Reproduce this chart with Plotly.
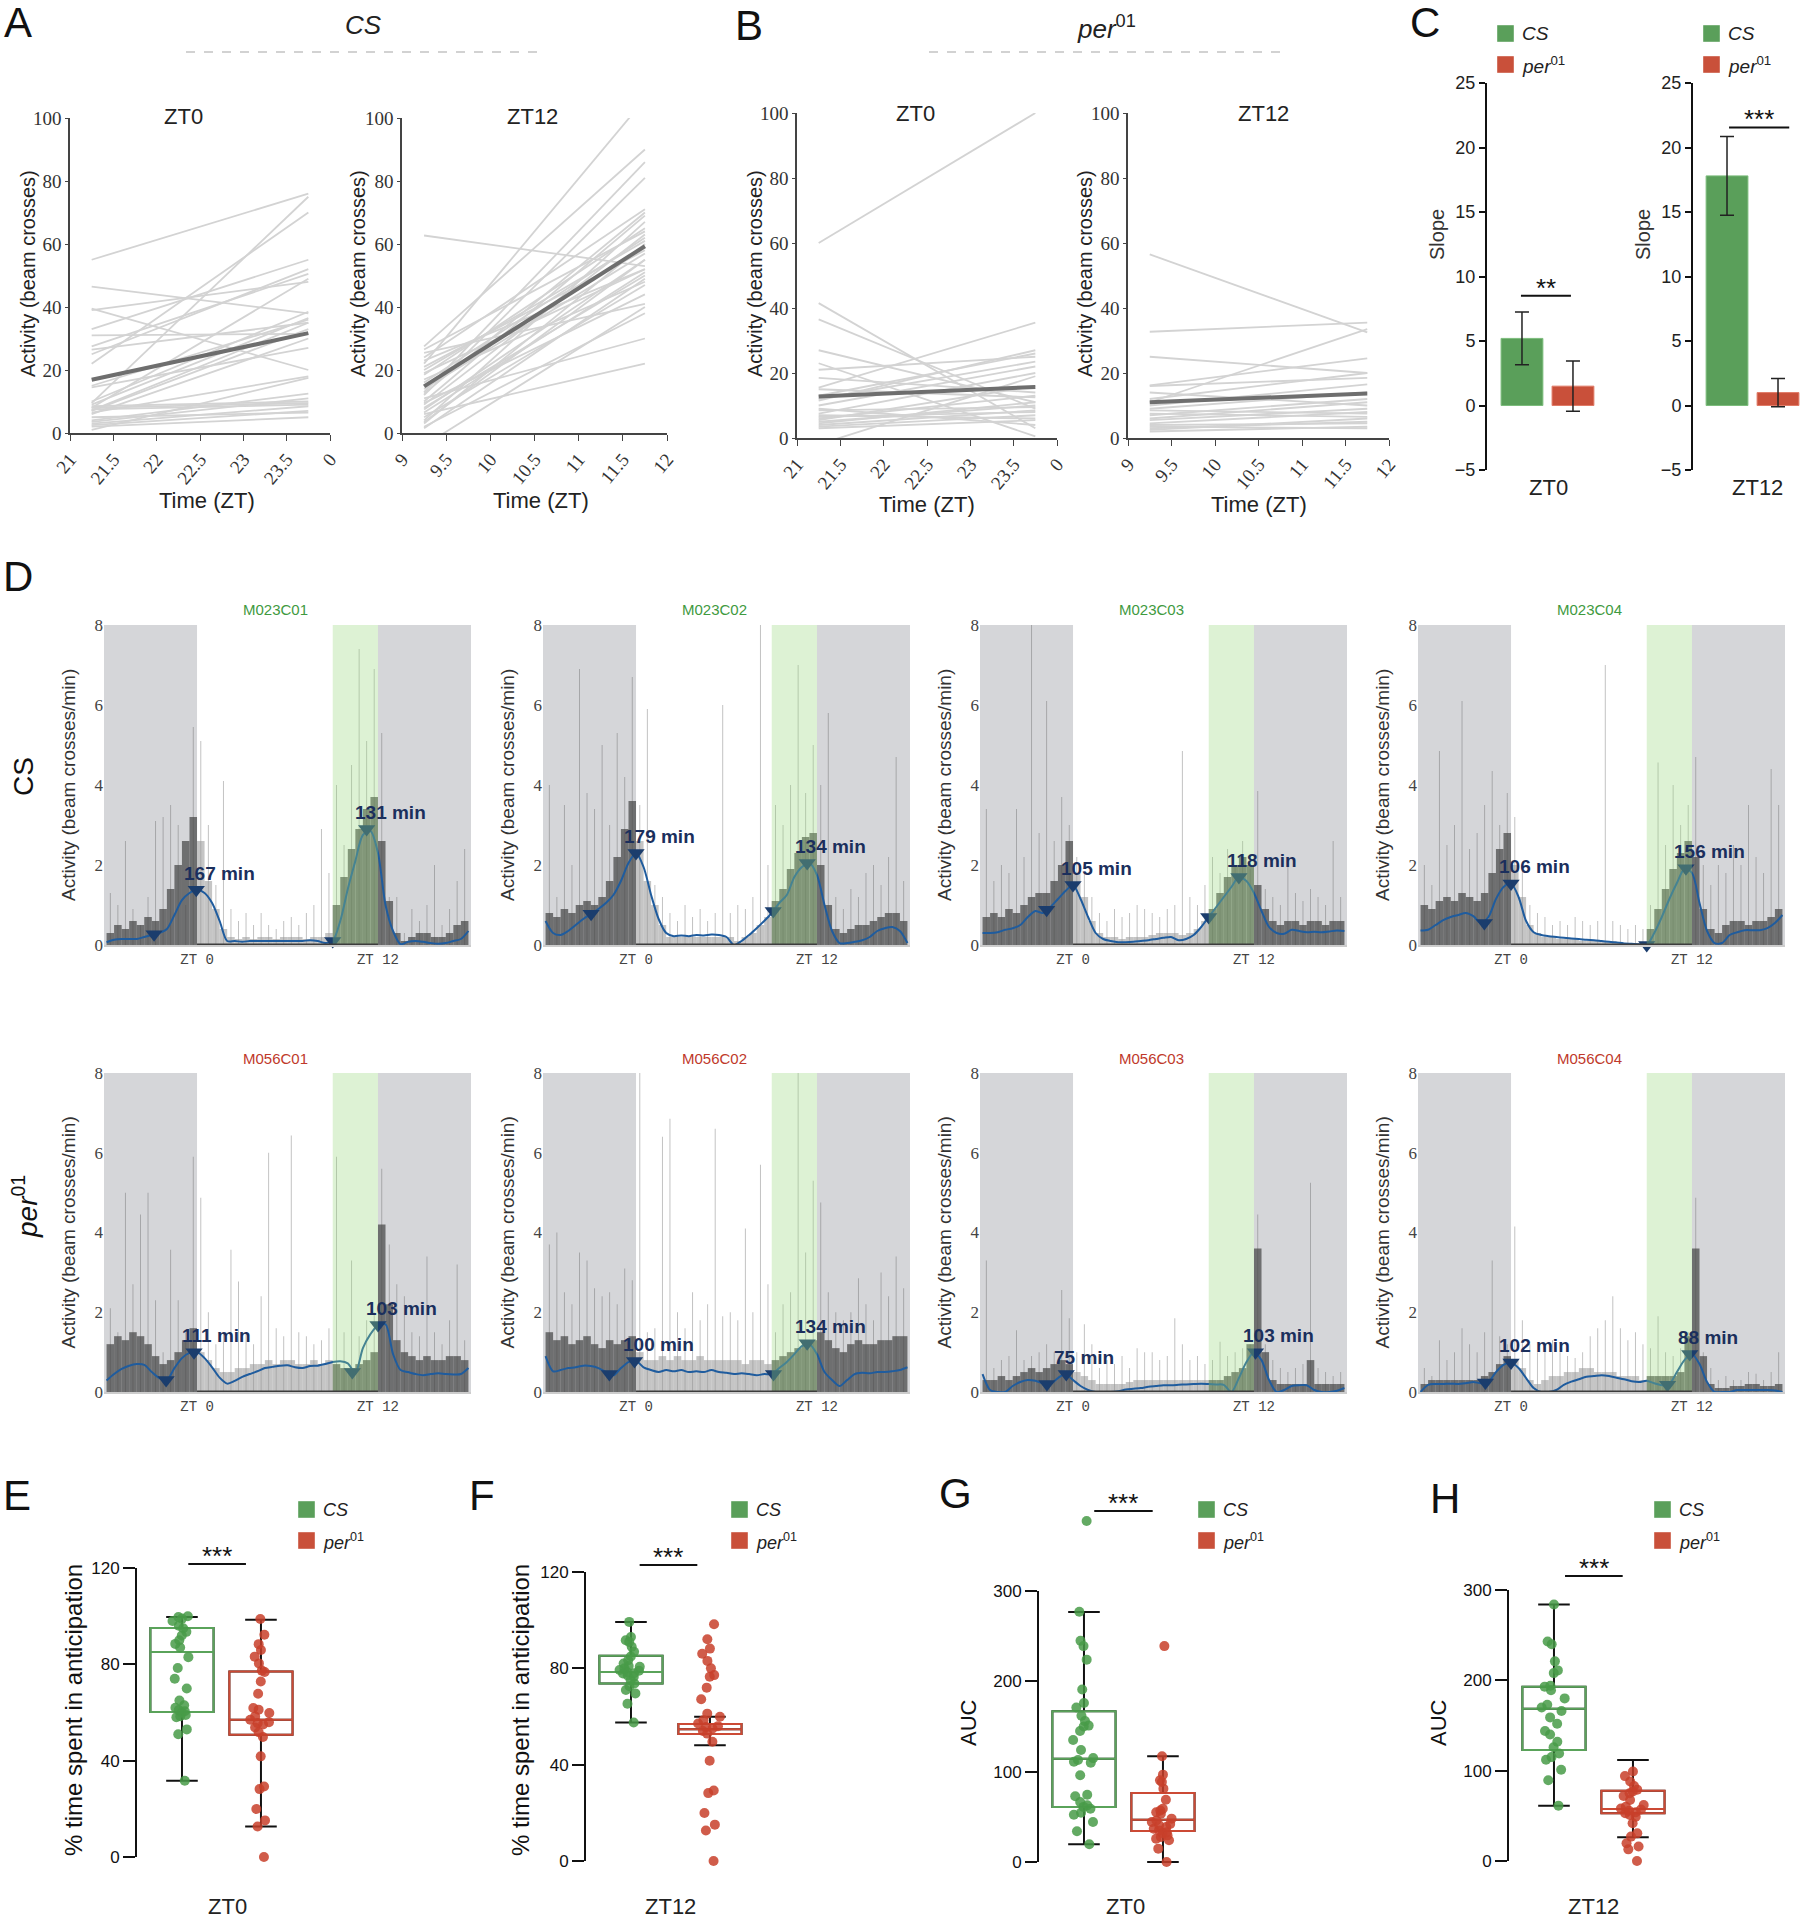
import plotly.graph_objects as go

W, H = 1804, 1920
SANS = "Liberation Sans, Arial, sans-serif"
NARROW = "Liberation Sans Narrow, Liberation Sans, Arial, sans-serif"
SERIF = "Liberation Serif, DejaVu Serif, serif"
MONO = "Liberation Mono, DejaVu Sans Mono, monospace"

GREEN = "#5a9f5a"
RED = "#c9503a"
PT_GREEN = "rgba(72,155,72,0.85)"
PT_RED = "rgba(200,64,42,0.85)"
NAVY = "#1b3d6d"

# ---------------- A / B : activity at start and end of the anticipation window ----------------
WIN_ZT0 = [21.25, 23.75]
WIN_ZT12 = [9.25, 11.75]
TICKS_ZT0 = [21, 21.5, 22, 22.5, 23, 23.5, 24]
TICKTEXT_ZT0 = ["21", "21.5", "22", "22.5", "23", "23.5", "0"]
TICKS_ZT12 = [9, 9.5, 10, 10.5, 11, 11.5, 12]
TICKTEXT_ZT12 = ["9", "9.5", "10", "10.5", "11", "11.5", "12"]

CS_ZT0_START = [55, 46.5, 39.5, 39, 33, 31, 27.5, 26.5, 25, 22, 15, 14.5, 9, 8.5, 8,
                7.5, 7, 6.5, 4, 3, 2, 1, 9.5, 8, 6, 3.5, 2.5, 10, 5, 7.2]
CS_ZT0_END = [76, 38, 20, 48, 55, 31.5, 50.5, 35, 52, 70, 36, 27, 36.5, 10, 9.5,
              9, 33, 18, 12.5, 8.5, 5, 17.5, 75, 49, 30, 11, 7, 38.5, 6.5, 35]
CS_ZT0_MEAN = [16.9, 31.7]

CS_ZT12_START = [62.7, 27.5, 26.5, 25.4, 24, 23, 22, 20, 18.5, 17, 13, 12, 11, 10, 9, 8,
                 7.5, 6, 5, 4, 3, 2, -4, 21, 19, 16, 14, 12.5, 9.5, 6.5, 3.5, 1.5]
CS_ZT12_END = [53, 90, 64, 41, 71, 52, 106, 61, 65, 48, 86, 81, 30, 69, 63, 50,
               55, 22, 47, 67, 60, 38, 40, 58, 52, 62, 57, 70, 44, 51, 55, 49]
CS_ZT12_MEAN = [14.8, 59.3]

PER_ZT0_START = [60, 41.5, 36.5, 27, 23, 21, 18.5, 15.5, 15, 11.5, 10, 8.5, 7.5, 6.5, 5.5,
                 4.5, 3.5, 3, 12, 9, 5, 6, -2, 13, 4, 7]
PER_ZT0_END = [100, 3, 9, 11, 0.5, 25, 14, 35.5, 12.5, 27, 22, 9.5, 20, 8, 16,
               11, 7, 5.5, 23.5, 4, 10, 13, 19, 26, 8.5, 6]
PER_ZT0_MEAN = [12.8, 15.7]

PER_ZT12_START = [56.5, 32.7, 25, 16.2, 16, 14, 11, 10, 8.5, 7, 5.5, 4, 2.5, 2, 9, 6, 3,
                  12, 4.5, 7.5, 3.5]
PER_ZT12_END = [32.5, 35.5, 20, 24.5, 18.5, 10, 33.5, 16.5, 7.5, 12, 9, 4.5, 6, 3.5, 14,
                11, 5, 20, 8, 6.5, 3]
PER_ZT12_MEAN = [11.0, 13.7]

# ---------------- C : slopes ----------------
CS_SLOPE = [5.2, 17.8]
CS_SLOPE_ERR = [2.05, 3.05]
PER_SLOPE = [1.5, 1.0]
PER_SLOPE_ERR = [1.95, 1.1]
C_SIG = ["**", "***"]
C_SIG_Y = [8.5, 21.55]

# ---------------- D : activity profiles (30 min bins, -6 .. 18 ZT) ----------------
BIN_T = [-6.0, -5.5, -5.0, -4.5, -4.0, -3.5, -3.0, -2.5, -2.0, -1.5, -1.0, -0.5,
         0.0, 0.5, 1.0, 1.5, 2.0, 2.5, 3.0, 3.5, 4.0, 4.5, 5.0, 5.5,
         6.0, 6.5, 7.0, 7.5, 8.0, 8.5, 9.0, 9.5, 10.0, 10.5, 11.0, 11.5,
         12.0, 12.5, 13.0, 13.5, 14.0, 14.5, 15.0, 15.5, 16.0, 16.5, 17.0, 17.5, 18.0]

D_NAMES = ["M023C01", "M023C02", "M023C03", "M023C04",
           "M056C01", "M056C02", "M056C03", "M056C04"]

D_MASS = [
    [0.3, 0.5, 0.4, 0.6, 0.5, 0.7, 0.6, 0.9, 1.4, 2.0, 2.6, 3.2,
     2.6, 1.6, 0.9, 0.4, 0.2, 0.15, 0.2, 0.15, 0.2, 0.2, 0.15, 0.2,
     0.2, 0.2, 0.15, 0.2, 0.2, 0.3, 1.0, 1.7, 2.4, 2.9, 3.4, 3.7,
     2.6, 1.1, 0.3, 0.1, 0.2, 0.3, 0.3, 0.2, 0.2, 0.3, 0.5, 0.6],
    [0.8, 0.7, 0.9, 0.8, 1.0, 1.1, 1.0, 1.2, 1.6, 2.2, 2.9, 3.6,
     2.6, 1.6, 1.0, 0.5, 0.2, 0.2, 0.2, 0.2, 0.2, 0.2, 0.2, 0.2,
     0.2, 0.1, 0.2, 0.3, 0.5, 0.7, 1.1, 1.4, 1.9, 2.3, 2.7, 2.8,
     2.0, 1.0, 0.4, 0.3, 0.4, 0.5, 0.5, 0.6, 0.7, 0.8, 0.8, 0.6],
    [0.7, 0.8, 0.7, 0.9, 0.8, 1.0, 1.2, 1.3, 1.3, 1.6, 2.0, 2.6,
     1.8, 1.2, 0.6, 0.3, 0.2, 0.2, 0.15, 0.2, 0.2, 0.2, 0.25, 0.3,
     0.3, 0.3, 0.25, 0.3, 0.4, 0.6, 0.9, 1.3, 1.7, 2.0, 2.2, 2.0,
     1.5, 0.9, 0.6, 0.5, 0.6, 0.6, 0.5, 0.6, 0.6, 0.5, 0.6, 0.6],
    [1.0, 0.9, 1.1, 1.2, 1.1, 1.3, 1.2, 1.1, 1.3, 1.8, 2.4, 2.8,
     2.0, 1.2, 0.5, 0.3, 0.2, 0.2, 0.15, 0.15, 0.15, 0.1, 0.1, 0.1,
     0.1, 0.1, 0.05, 0.05, 0.05, 0.05, 0.4, 0.9, 1.4, 1.9, 2.3, 2.6,
     2.2, 0.9, 0.4, 0.3, 0.5, 0.6, 0.6, 0.5, 0.6, 0.6, 0.7, 0.9],
    [1.2, 1.4, 1.3, 1.5, 1.4, 1.2, 0.9, 0.7, 0.8, 1.0, 1.3, 1.6,
     1.0, 0.8, 0.6, 0.5, 0.5, 0.6, 0.6, 0.7, 0.7, 0.8, 0.7, 0.8,
     0.8, 0.7, 0.7, 0.8, 0.7, 0.8, 0.7, 0.6, 0.6, 0.7, 0.8, 1.0,
     4.2, 2.2, 1.3, 1.0, 0.9, 0.8, 0.9, 0.8, 0.8, 0.9, 0.9, 0.8],
    [1.5, 1.3, 1.4, 1.2, 1.3, 1.4, 1.2, 1.1, 1.3, 1.2, 1.3, 1.4,
     1.0, 0.8, 0.8, 0.9, 0.8, 0.9, 0.8, 0.8, 0.9, 0.8, 0.8, 0.8,
     0.8, 0.8, 0.7, 0.8, 0.8, 0.7, 0.8, 0.9, 1.0, 1.1, 1.2, 1.3,
     1.5, 1.3, 1.1, 1.0, 1.2, 1.3, 1.2, 1.2, 1.3, 1.3, 1.4, 1.4],
    [0.3, 0.3, 0.4, 0.3, 0.4, 0.5, 0.6, 0.5, 0.6, 0.7, 0.8, 0.7,
     0.5, 0.4, 0.3, 0.2, 0.2, 0.2, 0.2, 0.25, 0.3, 0.3, 0.3, 0.3,
     0.3, 0.3, 0.3, 0.3, 0.3, 0.3, 0.3, 0.3, 0.4, 0.5, 0.6, 1.2,
     3.6, 1.0, 0.3, 0.2, 0.2, 0.2, 0.2, 0.8, 0.2, 0.2, 0.2, 0.2],
    [0.2, 0.3, 0.3, 0.3, 0.3, 0.3, 0.3, 0.3, 0.4, 0.5, 0.7, 0.9,
     0.8, 0.6, 0.3, 0.2, 0.3, 0.4, 0.4, 0.5, 0.5, 0.6, 0.6, 0.5,
     0.5, 0.5, 0.4, 0.4, 0.4, 0.3, 0.4, 0.4, 0.4, 0.4, 0.5, 1.4,
     3.6, 0.9, 0.2, 0.1, 0.1, 0.15, 0.15, 0.2, 0.2, 0.15, 0.15, 0.2],
]

D_SPIKE = [
    [1.3, 1.0, 2.6, 0.9, 0.5, 1.2, 3.1, 3.2, 3.5, 3.0, 1.0, 5.45,
     5.1, 3.0, 1.5, 4.1, 0.9, 0.6, 0.8, 0.5, 0.8, 0.5, 0.4, 0.6,
     0.7, 0.5, 0.8, 1.0, 2.9, 1.8, 4.0, 2.5, 4.5, 7.4, 5.1, 6.9,
     5.3, 1.2, 1.2, 0.3, 0.9, 0.6, 1.0, 2.0, 0.5, 0.9, 1.6, 2.4],
    [4.0, 1.2, 3.5, 2.0, 6.9, 3.8, 3.4, 5.0, 3.0, 5.3, 4.2, 6.7,
     3.5, 5.9, 1.5, 1.2, 0.8, 0.6, 1.0, 0.7, 0.9, 0.6, 0.8, 6.0,
     0.8, 1.0, 0.9, 1.2, 8.0, 2.0, 3.5, 3.0, 4.0, 7.0, 3.8, 5.0,
     4.0, 5.8, 1.2, 0.9, 1.4, 1.2, 1.8, 2.0, 1.5, 2.2, 4.7, 1.6],
    [3.4, 1.6, 2.0, 1.8, 3.4, 2.2, 8.0, 2.8, 6.1, 2.6, 3.7, 3.0,
     2.2, 1.8, 1.2, 0.8, 0.6, 0.9, 0.7, 0.8, 1.0, 0.9, 0.8, 0.7,
     0.9, 1.0, 4.85, 1.2, 1.0, 1.5, 2.2, 1.8, 2.4, 2.0, 2.6, 1.9,
     3.85, 1.4, 1.2, 1.0, 2.2, 1.3, 1.1, 1.4, 1.2, 1.0, 2.6, 1.2],
    [2.0, 1.5, 4.85, 2.5, 3.0, 6.1, 2.4, 2.8, 3.5, 4.35, 3.0, 3.8,
     3.2, 2.0, 1.0, 0.8, 0.7, 0.5, 0.6, 0.5, 0.7, 0.6, 0.5, 0.6,
     7.0, 0.6, 0.5, 0.4, 0.5, 0.4, 1.0, 4.56, 2.5, 4.0, 3.0, 3.5,
     4.7, 2.0, 1.5, 2.0, 1.8, 2.5, 2.0, 3.5, 2.2, 1.8, 4.4, 3.5],
    [2.1, 1.5, 5.0, 2.7, 4.45, 5.0, 2.3, 1.0, 3.57, 2.3, 1.5, 5.9,
     4.87, 2.0, 1.2, 1.5, 3.57, 2.77, 1.5, 1.2, 2.4, 6.0, 1.6, 1.4,
     6.43, 1.5, 1.4, 1.2, 1.3, 1.6, 5.9, 1.5, 3.3, 1.4, 1.8, 2.0,
     5.6, 3.7, 2.7, 2.4, 1.5, 1.4, 3.4, 1.5, 1.2, 1.8, 3.2, 1.3],
    [3.7, 4.0, 2.5, 2.2, 3.5, 3.3, 2.6, 2.4, 2.5, 2.2, 3.1, 2.8,
     8.0, 1.5, 1.6, 6.4, 6.85, 2.0, 1.6, 2.5, 1.8, 2.2, 6.6, 1.9,
     2.0, 1.8, 4.1, 2.0, 5.7, 2.7, 1.5, 2.2, 2.5, 8.0, 3.5, 5.3,
     4.75, 2.5, 2.0, 1.8, 2.0, 2.85, 2.2, 1.8, 3.0, 2.4, 3.4, 2.6],
    [3.3, 0.6, 0.8, 0.9, 1.55, 0.8, 0.9, 1.0, 1.2, 1.0, 2.56, 1.85,
     1.0, 1.7, 1.2, 0.6, 0.8, 0.7, 0.9, 0.6, 1.1, 1.0, 1.0, 0.8,
     0.9, 1.85, 1.2, 0.8, 0.9, 0.7, 0.8, 1.26, 0.9, 1.0, 1.1, 1.2,
     4.45, 1.2, 0.8, 0.6, 0.5, 0.6, 0.7, 5.25, 0.6, 0.5, 0.4, 0.5],
    [0.6, 0.4, 1.3, 0.8, 1.0, 1.6, 1.2, 1.0, 1.5, 3.3, 1.4, 1.2,
     4.15, 1.8, 1.2, 1.0, 1.2, 1.3, 1.0, 0.9, 0.85, 1.0, 1.4, 1.6,
     1.8, 2.4, 1.6, 1.3, 1.5, 1.2, 1.1, 1.9, 1.0, 0.9, 1.1, 1.5,
     4.87, 1.0, 0.6, 0.3, 0.4, 0.3, 0.3, 0.5, 0.46, 0.3, 0.5, 1.0],
]

D_LINE = [
    [0.07, 0.13, 0.15, 0.15, 0.15, 0.2, 0.25, 0.3, 0.4, 0.75, 1.12, 1.3,
     1.38, 1.3, 1.05, 0.6, 0.1, 0.1, 0.08, 0.1, 0.1, 0.1, 0.1, 0.1,
     0.1, 0.1, 0.1, 0.12, 0.1, 0.05, 0.1, 0.6, 1.4, 2.1, 2.75, 2.85,
     2.3, 1.0, 0.35, 0.02, 0.08, 0.1, 0.08, 0.05, 0.03, 0.05, 0.1, 0.15, 0.35],
    [0.6, 0.3, 0.25, 0.35, 0.5, 0.65, 0.78, 0.9, 1.05, 1.25, 1.6, 2.05,
     2.3, 1.95, 1.25, 0.65, 0.3, 0.22, 0.24, 0.22, 0.25, 0.24, 0.26, 0.25,
     0.2, 0.0, 0.1, 0.25, 0.42, 0.6, 0.8, 1.05, 1.25, 1.7, 1.95, 2.05,
     1.75, 1.0, 0.35, 0.05, 0.05, 0.08, 0.12, 0.2, 0.35, 0.42, 0.45, 0.35, 0.05],
    [0.3, 0.3, 0.32, 0.38, 0.42, 0.5, 0.7, 0.85, 0.8, 0.95, 1.15, 1.35,
     1.5, 1.15, 0.7, 0.3, 0.15, 0.1, 0.07, 0.07, 0.08, 0.1, 0.12, 0.15,
     0.18, 0.2, 0.12, 0.15, 0.25, 0.45, 0.7, 0.95, 1.2, 1.45, 1.7, 1.6,
     1.3, 0.85, 0.45, 0.3, 0.28, 0.38, 0.35, 0.32, 0.33, 0.32, 0.34, 0.36, 0.35],
    [0.36, 0.38, 0.5, 0.62, 0.7, 0.75, 0.8, 0.72, 0.55, 0.7, 1.15, 1.45,
     1.54, 1.2, 0.6, 0.32, 0.25, 0.22, 0.2, 0.18, 0.16, 0.15, 0.13, 0.12,
     0.1, 0.08, 0.06, 0.04, 0.03, 0.02, 0.0, 0.3, 0.7, 1.15, 1.55, 1.9,
     1.8, 1.05, 0.35, 0.05, 0.05, 0.25, 0.32, 0.37, 0.37, 0.37, 0.42, 0.55, 0.75],
    [0.29, 0.45, 0.58, 0.66, 0.7, 0.68, 0.5, 0.35, 0.3, 0.6, 0.85, 0.98,
     1.0, 0.85, 0.62, 0.36, 0.21, 0.28, 0.38, 0.45, 0.52, 0.6, 0.63, 0.66,
     0.67, 0.62, 0.6, 0.65, 0.66, 0.7, 0.75, 0.77, 0.72, 0.48, 1.1, 1.45,
     1.68, 1.7, 0.95, 0.55, 0.5, 0.45, 0.42, 0.45, 0.47, 0.45, 0.44, 0.45, 0.6],
    [0.9, 0.52, 0.55, 0.6, 0.62, 0.66, 0.65, 0.6, 0.5, 0.42, 0.6, 0.75,
     0.78, 0.62, 0.55, 0.5, 0.55, 0.52, 0.55, 0.5, 0.52, 0.5, 0.55, 0.5,
     0.48, 0.45, 0.47, 0.45, 0.42, 0.45, 0.45, 0.6, 0.75, 0.95, 1.15, 1.2,
     0.95, 0.5, 0.3, 0.15, 0.3, 0.45, 0.48, 0.47, 0.5, 0.5, 0.52, 0.55, 0.62],
    [0.45, 0.05, 0.0, 0.0, 0.15, 0.25, 0.3, 0.28, 0.22, 0.2, 0.35, 0.45,
     0.3, 0.15, 0.05, 0.0, 0.0, 0.0, 0.02, 0.06, 0.08, 0.1, 0.13, 0.15,
     0.17, 0.17, 0.18, 0.19, 0.2, 0.21, 0.2, 0.19, 0.18, 0.0, 0.35, 0.75,
     1.0, 0.8, 0.3, 0.0, 0.05, 0.15, 0.17, 0.17, 0.05, 0.0, 0.0, 0.03, 0.1],
    [0.0, 0.18, 0.2, 0.2, 0.21, 0.2, 0.22, 0.25, 0.22, 0.25, 0.5, 0.68,
     0.74, 0.6, 0.35, 0.1, 0.0, 0.0, 0.05, 0.18, 0.26, 0.32, 0.38, 0.4,
     0.42, 0.4, 0.36, 0.32, 0.27, 0.25, 0.28, 0.22, 0.17, 0.2, 0.5, 0.8,
     0.95, 0.7, 0.25, 0.0, 0.0, 0.0, 0.05, 0.05, 0.05, 0.05, 0.05, 0.04, 0.0],
]

D_ONSET_T = [[-2.85, 9.0], [-2.98, 9.1], [-1.75, 9.0], [-1.77, 9.0],
             [-2.05, 10.3], [-1.77, 9.12], [-1.73], [-1.7, 10.38]]
D_ONSET_V = [[0.27, 0.1], [0.78, 0.85], [0.88, 0.7], [0.55, 0.0],
             [0.3, 0.5], [0.45, 0.45], [0.2], [0.24, 0.18]]
D_PEAK_T = [[-0.05, 11.25], [0.0, 11.35], [0.0, 11.0], [0.0, 11.6],
            [-0.2, 12.0], [-0.1, 11.35], [-0.45, 12.1], [0.0, 11.85]]
D_PEAK_V = [[1.38, 2.9], [2.3, 2.05], [1.5, 1.7], [1.54, 1.92],
            [1.0, 1.68], [0.78, 1.22], [0.45, 1.0], [0.74, 0.95]]
D_PEAK_MIN = [[167, 131], [179, 134], [105, 118], [106, 156],
              [111, 103], [100, 134], [75, 103], [102, 88]]

# ---------------- E-H : box plots ----------------
E_CS = [100, 99.7, 99, 98, 96, 95, 93.5, 92, 90, 88.5, 87, 83, 78.5, 74, 70, 65, 63, 62,
        61, 60.5, 60, 59, 58.5, 58, 53, 51, 31.7]
E_PER = [98.8, 92.3, 88.4, 86, 83.2, 80.4, 77.4, 76.8, 72.9, 67.8, 61.9, 61.2, 59.8, 58.4,
         57, 56, 55.6, 55, 53.8, 51.8, 49.8, 41.8, 29.3, 28.2, 19.9, 15.2, 12.7, 0]
F_CS = [99.3, 93, 91.7, 91, 89, 86.9, 84.9, 83.4, 82, 81, 80.7, 80, 79.3, 79, 78.5, 78,
        77.9, 77, 76.5, 75.1, 73.7, 72.6, 71, 69.6, 65.3, 57.5]
F_PER = [98.3, 92.1, 88.2, 86.1, 83.1, 80, 77.2, 76.5, 72, 67.2, 61.2, 59.9, 58.5, 57.1,
         56, 55.7, 55, 54, 52.9, 49.5, 41.6, 29.3, 28.2, 19.9, 15.1, 12.7, 0]
G_CS = [377.5, 277, 245, 239, 224, 191, 176, 171, 162, 156, 151, 150, 145, 135, 124, 115,
        113, 111, 110, 96, 74.5, 72.7, 66.4, 62.7, 61, 59, 54.6, 52.4, 44.3, 34, 19.6]
G_PER = [239, 117, 96.7, 90.4, 88.6, 81.2, 69, 59, 57, 55, 53.5, 48, 46, 44.3, 42, 40.6,
         38.7, 36.9, 35, 33, 32, 29.5, 27.7, 25.8, 24, 14.8, 0]
H_CS = [284, 243, 240, 221, 211, 208, 194, 193, 189, 180, 173, 170, 166, 159, 152, 144,
        140, 132, 126, 119, 115, 112, 101, 89.4, 61.3]
H_PER = [99, 94, 88, 83, 79, 77, 75, 72, 67.5, 62, 60, 58, 57, 55.7, 54, 52.8, 51, 49,
         41.7, 30.6, 27, 19.6, 16, 12.9, 0]

# box stats as drawn: q1, median, q3, lower whisker, upper whisker
E_CS_BOX = [60.2, 85.1, 95.1, 31.7, 99.7]
E_PER_BOX = [50.8, 57, 77, 12.7, 98.5]
F_CS_BOX = [73.7, 78.5, 85.2, 57.5, 99.3]
F_PER_BOX = [52.7, 54.7, 56.9, 48.1, 59.9]
G_CS_BOX = [60.9, 114.4, 166.8, 19.6, 276.8]
G_PER_BOX = [34.3, 46.9, 76.4, 0, 117]
H_CS_BOX = [122.9, 168.6, 193, 61.3, 284]
H_PER_BOX = [52.8, 57.6, 77.9, 26.2, 111.8]
SIG_Y = [121.7, 122.9, 388.6, 315.5]

fig = go.Figure()
axes = {}
shapes = []
anns = []


def sfx(n):
    return "" if n == 1 else str(n)


def set_axes(n, xpx, ypx, xax, yax):
    s = sfx(n)
    axes["xaxis" + s] = dict(domain=[xpx[0] / W, xpx[1] / W], anchor="y" + s,
                             automargin=False, **xax)
    axes["yaxis" + s] = dict(domain=[1 - ypx[1] / H, 1 - ypx[0] / H], anchor="x" + s,
                             automargin=False, **yax)


def note(x, y, txt, size, family=SANS, color="#222", **kw):
    kw.setdefault("xanchor", "center")
    kw.setdefault("yanchor", "middle")
    anns.append(dict(x=x / W, y=1 - y / H, xref="paper", yref="paper", text=txt,
                     showarrow=False, font=dict(size=size, family=family, color=color), **kw))


def square(x, y, color):
    shapes.append(dict(type="rect", xref="paper", yref="paper", x0=x / W, x1=(x + 17) / W,
                       y0=1 - (y + 17) / H, y1=1 - y / H, fillcolor=color,
                       line=dict(color="rgba(255,255,255,0.4)", width=1)))


def legend_pair(x, y, size=19):
    square(x, y, GREEN)
    square(x, y + 31, RED)
    note(x + 23, y + 9, "<i>CS</i>", size, xanchor="left")
    note(x + 23, y + 40, "<i>per</i><sup>01</sup>", size, xanchor="left")


# ---------------- A / B ----------------
AB = [
    (1, (70, 330), (118, 433), WIN_ZT0, CS_ZT0_START, CS_ZT0_END, CS_ZT0_MEAN,
     TICKS_ZT0, TICKTEXT_ZT0, "ZT0", (183, 116), (207, 500), (28, 274)),
    (2, (402, 667), (118, 433), WIN_ZT12, CS_ZT12_START, CS_ZT12_END, CS_ZT12_MEAN,
     TICKS_ZT12, TICKTEXT_ZT12, "ZT12", (532, 116), (541, 500), (358, 274)),
    (3, (797, 1057), (113, 438), WIN_ZT0, PER_ZT0_START, PER_ZT0_END, PER_ZT0_MEAN,
     TICKS_ZT0, TICKTEXT_ZT0, "ZT0", (915, 114), (927, 505), (755, 274)),
    (4, (1128, 1389), (113, 438), WIN_ZT12, PER_ZT12_START, PER_ZT12_END, PER_ZT12_MEAN,
     TICKS_ZT12, TICKTEXT_ZT12, "ZT12", (1263, 114), (1259, 505), (1085, 274)),
]
for (n, xp, yp, win, st, en, mean, tv, tt, title, tpos, xlpos, ylpos) in AB:
    s = sfx(n)
    xs, ys = [], []
    for a, b in zip(st, en):
        xs += [win[0], win[1], None]
        ys += [a, b, None]
    fig.add_trace(go.Scatter(x=xs, y=ys, mode="lines", line=dict(color="#d3d3d3", width=1.8),
                             xaxis="x" + s, yaxis="y" + s, hoverinfo="skip"))
    fig.add_trace(go.Scatter(x=win, y=mean, mode="lines", line=dict(color="#6e6e6e", width=4),
                             xaxis="x" + s, yaxis="y" + s, hoverinfo="skip"))
    set_axes(n, xp, yp,
             dict(range=[tv[0], tv[-1]], tickvals=tv, ticktext=tt, tickangle=-50,
                  ticks="outside", ticklen=6, tickcolor="#444", showline=True,
                  linecolor="#444", linewidth=1.5, showgrid=False, zeroline=False,
                  tickfont=dict(family=SERIF, size=19, color="#333")),
             dict(range=[0, 100], tickvals=[0, 20, 40, 60, 80, 100], ticks="outside", ticklen=3,
                  tickcolor="#444", showline=True, linecolor="#444", linewidth=1.5,
                  showgrid=False, zeroline=False,
                  tickfont=dict(family=SERIF, size=19, color="#333")))
    note(tpos[0], tpos[1], title, 22, family=NARROW)
    note(xlpos[0], xlpos[1], "Time (ZT)", 22, family=NARROW)
    note(ylpos[0], ylpos[1], "Activity (beam crosses)", 20, textangle=-90)

note(18, 23, "A", 42, color="#111")
note(749, 25, "B", 42, color="#111")
note(363, 25, "<i>CS</i>", 26)
note(1106, 28, "<i>per</i><sup>01</sup>", 26)
for x0, x1 in [(186, 543), (929, 1285)]:
    shapes.append(dict(type="line", xref="paper", yref="paper", x0=x0 / W, x1=x1 / W,
                       y0=1 - 52 / H, y1=1 - 52 / H, line=dict(color="#c4c4c4", width=1.5, dash="dash")))

# ---------------- C ----------------
C_AX = [(5, (1487, 1600), [-0.686, 1.53], (1437, 1548, "ZT0"), 1497, (-0.02, 0.96)),
        (6, (1693, 1803), [-0.667, 1.49], (1643, 1757, "ZT12"), 1703, (0.04, 1.22))]
for i, (n, xp, xr, labs, lx, sig_x) in enumerate(C_AX):
    s = sfx(n)
    fig.add_trace(go.Bar(x=[0], y=[CS_SLOPE[i]], width=0.82, xaxis="x" + s, yaxis="y" + s,
                         marker=dict(color=GREEN, line=dict(color="#7cbc7c", width=1)),
                         error_y=dict(type="data", array=[CS_SLOPE_ERR[i]], color="#222",
                                      thickness=1.5, width=7)))
    fig.add_trace(go.Bar(x=[1], y=[PER_SLOPE[i]], width=0.82, xaxis="x" + s, yaxis="y" + s,
                         marker=dict(color=RED, line=dict(color="#e07a66", width=1)),
                         error_y=dict(type="data", array=[PER_SLOPE_ERR[i]], color="#222",
                                      thickness=1.5, width=7)))
    set_axes(n, xp, (83, 470), dict(range=xr, visible=False),
             dict(range=[-5, 25], tickvals=[-5, 0, 5, 10, 15, 20, 25], ticks="outside",
                  ticklen=6, tickwidth=1.5, tickcolor="#111", showline=True, linecolor="#111",
                  linewidth=2, showgrid=False, zeroline=False,
                  tickfont=dict(family=SANS, size=18, color="#222")))
    shapes.append(dict(type="line", xref="x" + s, yref="y" + s, x0=sig_x[0], x1=sig_x[1],
                       y0=C_SIG_Y[i], y1=C_SIG_Y[i], line=dict(color="#111", width=2)))
    anns.append(dict(x=(sig_x[0] + sig_x[1]) / 2, y=C_SIG_Y[i], xref="x" + s, yref="y" + s,
                     text=C_SIG[i], showarrow=False, yanchor="bottom", yshift=-9,
                     font=dict(size=26, family=SANS, color="#111")))
    note(labs[0], 235, "Slope", 20, color="#333", textangle=-90)
    note(labs[1], 487, labs[2], 22, family=NARROW)
    legend_pair(lx, 25)
note(1425, 22, "C", 42, color="#111")

# ---------------- D ----------------
XR = [-6.17, 18.17]
D_COLS = [104, 543, 980, 1418]
D_ROWS = [(625, 945), (1073, 1392)]
MASS_COLORS = ["rgba(150,150,150,0.55)" if 0 <= t < 9 else "rgba(70,70,70,0.72)"
               for t in BIN_T[:-1]]
for k in range(8):
    n = 7 + k
    s = sfx(n)
    left = D_COLS[k % 4]
    top, bot = D_ROWS[k // 4]
    xa, ya = "x" + s, "y" + s
    fig.add_trace(go.Bar(x=BIN_T[:-1], y=D_SPIKE[k], width=0.06, offset=0.22, xaxis=xa, yaxis=ya,
                         marker=dict(color="rgba(80,80,80,0.38)", line=dict(width=0)),
                         hoverinfo="skip"))
    fig.add_trace(go.Bar(x=BIN_T[:-1], y=D_MASS[k], width=0.5, offset=0, xaxis=xa, yaxis=ya,
                         marker=dict(color=MASS_COLORS, line=dict(width=0)),
                         hoverinfo="skip"))
    fig.add_trace(go.Scatter(x=BIN_T, y=D_LINE[k], mode="lines", xaxis=xa, yaxis=ya,
                             line=dict(color="#1f5c9e", width=2, shape="spline", smoothing=0.8),
                             hoverinfo="skip"))
    fig.add_trace(go.Scatter(x=D_ONSET_T[k] + D_PEAK_T[k], y=D_ONSET_V[k] + D_PEAK_V[k],
                             mode="markers", xaxis=xa, yaxis=ya, cliponaxis=False,
                             marker=dict(symbol="triangle-down", size=15, color=NAVY)))
    for t, v, m in zip(D_PEAK_T[k], D_PEAK_V[k], D_PEAK_MIN[k]):
        anns.append(dict(x=t, y=v, xref=xa, yref=ya, text=f"<b>{m} min</b>", showarrow=False,
                         xanchor="left", yanchor="bottom", xshift=-14, yshift=4,
                         font=dict(size=19, family=SANS, color="#1b2f5c")))
    for x0, x1 in [(XR[0], 0), (12, XR[1])]:
        shapes.append(dict(type="rect", xref=xa, yref=ya, x0=x0, x1=x1, y0=0, y1=8,
                           fillcolor="#d5d6d9", line=dict(width=0), layer="below"))
    shapes.append(dict(type="rect", xref=xa, yref=ya, x0=9, x1=12, y0=0, y1=8,
                       fillcolor="rgba(150,215,120,0.32)", line=dict(width=0), layer="above"))
    shapes.append(dict(type="line", xref=xa, yref=ya, x0=0, x1=12, y0=0, y1=0,
                       line=dict(color="#3c3c3c", width=3), layer="above"))
    set_axes(n, (left, left + 367), (top, bot),
             dict(range=XR, tickvals=[0, 12], ticktext=["ZT 0", "ZT 12"], ticks="",
                  showline=True, linecolor="#cccccc", linewidth=2, showgrid=False,
                  zeroline=False, tickfont=dict(family=MONO, size=14, color="#444")),
             dict(range=[0, 8], tickvals=[0, 2, 4, 6, 8], ticks="", showline=False,
                  showgrid=False, zeroline=False,
                  tickfont=dict(family=SERIF, size=17, color="#444")))
    note(left + 171, top - 15, D_NAMES[k], 15, color="#3f9a3f" if k < 4 else "#c0392b")
    note(left - 36, (top + bot) / 2, "Activity (beam crosses/min)", 19, color="#333",
         textangle=-90)
note(18, 576, "D", 42, color="#111")
note(23, 777, "CS", 28, color="#111", textangle=-90)
note(25, 1207, "<i>per</i><sup>01</sup>", 28, color="#111", textangle=-90)

# ---------------- E-H ----------------
EH = [
    (15, 136, 1857, 2.408, [-5, 133], [0, 40, 80, 120], E_CS, E_PER, E_CS_BOX, E_PER_BOX,
     (1.08, 1.81), "E", (17, 1495), "% time spent in anticipation", 24, (73, 1710), "ZT0", 227, 298),
    (16, 585, 1861, 2.408, [-5, 133], [0, 40, 80, 120], F_CS, F_PER, F_CS_BOX, F_PER_BOX,
     (1.11, 1.84), "F", (482, 1495), "% time spent in anticipation", 24, (520, 1710), "ZT12", 670, 731),
    (17, 1038, 1862, 0.9033, [-12, 400], [0, 100, 200, 300], G_CS, G_PER, G_CS_BOX, G_PER_BOX,
     (1.13, 1.87), "G", (955, 1493), "AUC", 22, (968, 1723), "ZT0", 1125, 1198),
    (18, 1508, 1861, 0.9033, [-12, 400], [0, 100, 200, 300], H_CS, H_PER, H_CS_BOX, H_PER_BOX,
     (1.14, 1.87), "H", (1445, 1498), "AUC", 22, (1438, 1723), "ZT12", 1593, 1654),
]
for i, (n, axpx, zero, ppu, yr, tv, cs, per, csb, perb, sig_x, letter, lpos,
        ylab, ylsize, ylpos, xlab, xlx, legx) in enumerate(EH):
    s = sfx(n)
    xa, ya = "x" + s, "y" + s
    for pos, vals, stats, col, pcol in [(1, cs, csb, "#5aa35a", PT_GREEN),
                                        (2, per, perb, "#cc4a35", PT_RED)]:
        fig.add_trace(go.Box(x=[pos], q1=[stats[0]], median=[stats[1]], q3=[stats[2]],
                             lowerfence=[stats[3]], upperfence=[stats[4]], width=0.8,
                             whiskerwidth=0.5, boxpoints=False, xaxis=xa, yaxis=ya,
                             line=dict(color="#111", width=2), fillcolor="rgba(0,0,0,0)"))
        fig.add_trace(go.Box(x=[pos], q1=[stats[0]], median=[stats[1]], q3=[stats[2]],
                             lowerfence=[stats[0]], upperfence=[stats[2]], width=0.8,
                             whiskerwidth=0, boxpoints=False, xaxis=xa, yaxis=ya,
                             line=dict(color=col, width=2), fillcolor="rgba(0,0,0,0)"))
        fig.add_trace(go.Box(x0=pos, y=vals, width=0.8, boxpoints="all", jitter=0.4, pointpos=0,
                             xaxis=xa, yaxis=ya, line=dict(color="rgba(0,0,0,0)", width=0),
                             fillcolor="rgba(0,0,0,0)", marker=dict(color=pcol, size=10)))
    set_axes(n, (axpx, axpx + 194), (zero - yr[1] * ppu, zero - yr[0] * ppu),
             dict(range=[0.418, 2.874], visible=False),
             dict(range=yr, tickvals=tv, ticks="outside", ticklen=12, tickwidth=2,
                  tickcolor="#111", showline=False, showgrid=False, zeroline=False,
                  tickfont=dict(family=SANS, size=17, color="#111")))
    shapes.append(dict(type="line", xref=xa + " domain", yref=ya, x0=0, x1=0, y0=tv[0], y1=tv[-1],
                       line=dict(color="#111", width=2)))
    shapes.append(dict(type="line", xref=xa, yref=ya, x0=sig_x[0], x1=sig_x[1],
                       y0=SIG_Y[i], y1=SIG_Y[i], line=dict(color="#111", width=2)))
    anns.append(dict(x=(sig_x[0] + sig_x[1]) / 2, y=SIG_Y[i], xref=xa, yref=ya, text="***",
                     showarrow=False, yanchor="bottom", yshift=-9,
                     font=dict(size=26, family=SANS, color="#111")))
    note(lpos[0], lpos[1], letter, 42, color="#111")
    note(ylpos[0], ylpos[1], ylab, ylsize, color="#111", textangle=-90)
    note(xlx, 1906, xlab, 22, family=NARROW)
    legend_pair(legx, 1501, size=18)

fig.update_layout(width=W, height=H,
                  margin=dict(l=0, r=0, t=0, b=0, pad=0, autoexpand=False),
                  paper_bgcolor="white", plot_bgcolor="white", showlegend=False,
                  barmode="overlay", boxmode="overlay", shapes=shapes, annotations=anns, **axes)
fig.write_html("out.html", config={"displayModeBar": False},
               post_script="document.body.style.margin='0';document.body.style.padding='0';")
